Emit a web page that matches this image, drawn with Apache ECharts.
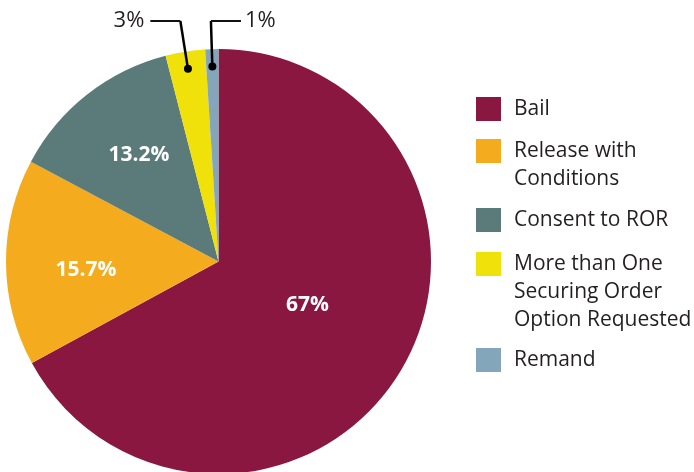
<!DOCTYPE html>
<html><head><meta charset="utf-8">
<script src="https://cdn.jsdelivr.net/npm/echarts@6/dist/echarts.min.js"></script>
<style>html,body{margin:0;padding:0;background:#fff}#c{width:694px;height:472px}</style>
</head><body><div id="c"></div>
<script>
// ---- data ----
const categories = ['Bail', 'Release with\nConditions', 'Consent to ROR', 'More than One\nSecuring Order\nOption Requested', 'Remand'];
const values = [67, 15.7, 13.2, 3, 1];
const valueLabels = ['67%', '15.7%', '13.2%', '3%', '1%'];

// ---- styles / layout ----
const colors = ['#8a1740', '#f5ab1e', '#5a7b79', '#f0e10a', '#84a6ba'];
const CX = 218.5, CY = 261.5, R = 212.5;
const insideFrac = [0.465, 0.625, 0.624];
const insideShiftDeg = [-4.9, -3.6, 1.3];
const calloutSide = {3: -1, 4: 1};
const dotFrac = 0.918, calloutY = 21, calloutLen = 30;
const calloutGap = {'-1': 6, '1': 4};
const legendIconTops = [97, 139, 208, 252, 348];
const FONT = '"Open Sans"';
const LH = 28;

const total = values.reduce((a, b) => a + b, 0);
const mids = []; let acc = 0;
values.forEach(v => { mids.push(acc + v / 2); acc += v; });
function ang(i) { return mids[i] / total * 2 * Math.PI; }
function ptA(a, d) { return [CX + d * Math.sin(a), CY - d * Math.cos(a)]; }

const pieData = values.map((v, i) => {
  const isCallout = calloutSide[i] !== undefined;
  return {
    name: categories[i], value: v,
    itemStyle: { color: colors[i] },
    label: isCallout ? { show: false }
      : { show: true, position: 'inside', color: '#ffffff', fontSize: 21, fontWeight: 'bold', fontFamily: FONT },
    labelLine: { show: false }
  };
});

const calloutIdx = values.map((v, i) => i).filter(i => calloutSide[i] !== undefined);
const calloutData = calloutIdx.map(i => [dotFrac, mids[i], i]);

const legends = categories.map((name, i) => {
  const n = name.split('\n').length;
  const top = legendIconTops[i] + Math.min(0, 12 - (2 * n - 1) * LH / 2);
  return {
    left: 476, top: top, padding: 0, orient: 'vertical',
    itemWidth: 25, itemHeight: 24, icon: 'rect', selectedMode: false,
    formatter: nm => '\n'.repeat(n - 1) + nm,
    textStyle: { fontFamily: FONT, fontSize: 21, lineHeight: LH, color: '#231f20', padding: [0, 0, 0, 8] },
    data: [{ name: name, itemStyle: { color: colors[i] } }]
  };
});

const chart = echarts.init(document.getElementById('c'));
chart.setOption({
  animation: false,
  backgroundColor: '#fff',
  legend: legends,
  polar: { center: [CX, CY], radius: R },
  angleAxis: { type: 'value', min: 0, max: total, startAngle: 90, clockwise: true, show: false,
    axisLine: { show: false }, axisLabel: { show: false }, axisTick: { show: false }, splitLine: { show: false } },
  radiusAxis: { type: 'value', min: 0, max: 1, show: false,
    axisLine: { show: false }, axisLabel: { show: false }, axisTick: { show: false }, splitLine: { show: false } },
  series: [
    {
      type: 'pie', center: [CX, CY], radius: R, startAngle: 90, clockwise: true,
      avoidLabelOverlap: false, silent: true, z: 2,
      label: { show: true, formatter: p => valueLabels[p.dataIndex] },
      emphasis: { disabled: true },
      data: pieData,
      labelLayout: function (p) {
        const i = p.dataIndex;
        if (calloutSide[i] !== undefined) return {};
        const q = ptA(ang(i) + insideShiftDeg[i] * Math.PI / 180, insideFrac[i] * R);
        return { x: q[0], y: q[1], align: 'center', verticalAlign: 'middle' };
      }
    },
    {
      type: 'custom', coordinateSystem: 'polar', z: 5, silent: true, clip: false,
      dimensions: ['radius', 'angle', 'idx'],
      encode: { radius: 0, angle: 1 },
      data: calloutData,
      renderItem: function (params, api) {
        const r = api.value(0), a = api.value(1), i = api.value(2);
        const p0 = api.coord([r, a]);
        const c = api.coord([0, a]);
        const t = (calloutY - c[1]) / (p0[1] - c[1]);
        const p1 = [c[0] + (p0[0] - c[0]) * t, calloutY];
        const side = calloutSide[i];
        const p2 = [p1[0] + side * calloutLen, calloutY];
        return {
          type: 'group',
          children: [
            { type: 'line', z2: 10, shape: { x1: p0[0], y1: p0[1], x2: p1[0], y2: p1[1] }, style: { stroke: '#000', lineWidth: 2.5 } },
            { type: 'line', z2: 10, shape: { x1: p1[0], y1: p1[1], x2: p2[0], y2: p2[1] }, style: { stroke: '#111', lineWidth: 2 } },
            { type: 'circle', z2: 11, shape: { cx: p0[0], cy: p0[1], r: 4 }, style: { fill: '#000' } },
            { type: 'text', style: {
                text: valueLabels[i], x: p2[0] + side * calloutGap[side], y: calloutY,
                align: side < 0 ? 'right' : 'left', verticalAlign: 'middle',
                fontFamily: 'Open Sans', fontSize: 22, fill: '#231f20' } }
          ]
        };
      }
    }
  ]
});
</script>
</body></html>
